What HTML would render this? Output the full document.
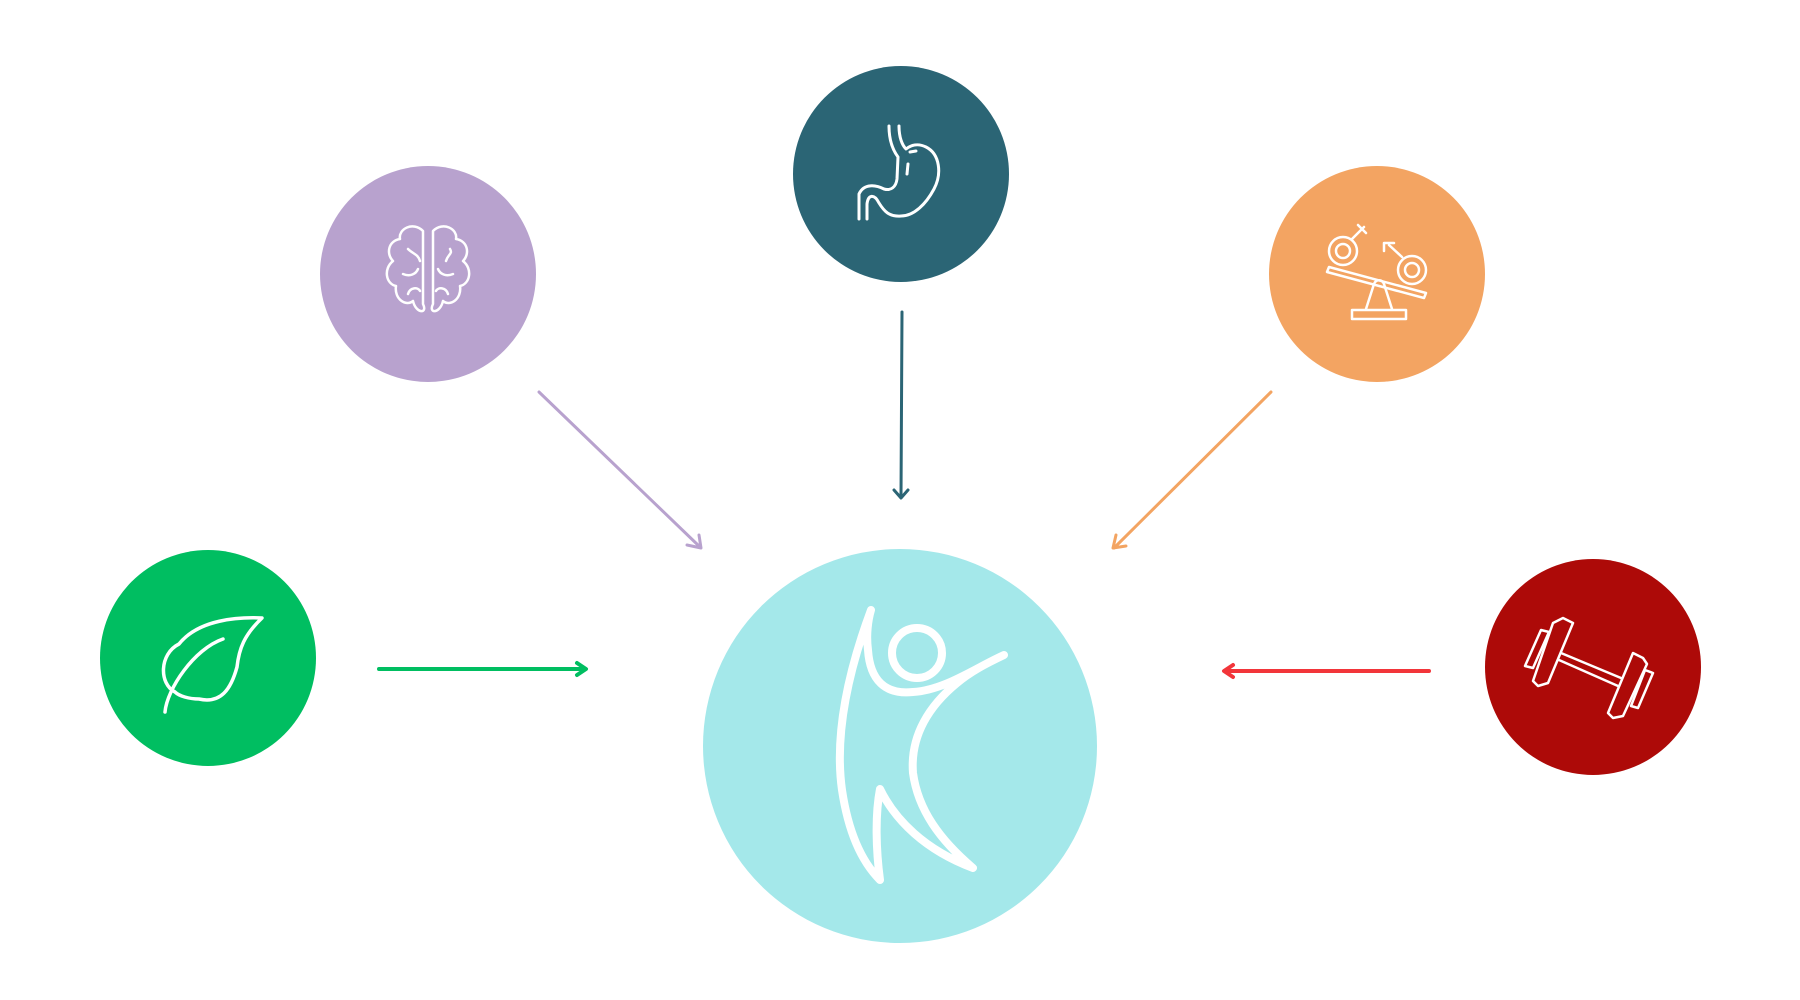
<!DOCTYPE html>
<html><head><meta charset="utf-8"><style>html,body{margin:0;padding:0;background:#fff}svg{display:block}</style></head>
<body>
<svg width="1800" height="1000" viewBox="0 0 1800 1000" xmlns="http://www.w3.org/2000/svg">
<rect width="1800" height="1000" fill="#fff"/>
<circle cx="900" cy="746" r="197" fill="#a4e8ea"/>
<g transform="translate(-2,-1)">
<circle cx="430" cy="275" r="108" fill="#b8a2ce"/>
</g>
<g transform="translate(-4,-1)">
<circle cx="905" cy="175" r="108" fill="#2b6575"/>
</g>
<g transform="translate(-6,-1)">
<circle cx="1383" cy="275" r="108" fill="#f3a462"/>
</g>
<g transform="translate(-1,-1)">
<circle cx="209" cy="659" r="108" fill="#00be61"/>
</g>
<g transform="translate(-7,-2)">
<circle cx="1600" cy="669" r="108" fill="#ad0a08"/>
</g>
<g fill="none" stroke-width="3" stroke-linecap="round" stroke-linejoin="round">
<path d="M539,392 L700,547 M687,545 L701,548 L699,535" stroke="#b8a2ce"/>
<path d="M902,312 L901,497 M894,490 L901,498 L908,490" stroke="#2b6575"/>
<path d="M1271,392 L1114,548 M1116,535 L1113,548 L1126,546" stroke="#f3a462"/>
<path d="M379,669 L585,669 M577,663 L586,669 L577,675" stroke="#00be61" stroke-width="4"/>
<path d="M1429,671 L1225,671 M1233,665 L1224,671 L1233,677" stroke="#f2353a" stroke-width="4"/>
</g>
<g fill="none" stroke="#fff" stroke-linecap="round" stroke-linejoin="round">
<circle cx="917" cy="653" r="25" stroke-width="8"/>
<path stroke-width="8" d="M871,610 C845,680 835,740 842,790 C848,830 860,860 880,880 C876,850 875,815 880,789 C895,820 925,850 973,868 C940,840 918,810 913,773 C910,735 930,705 957,683 C970,672 985,664 1004,655 C975,668 945,690 913,692 C885,695 870,680 868,650 C866,635 868,620 871,610 Z"/>
<g stroke-width="2.5" transform="translate(-2,-1)">
<path d="M425,232 C415,222 400,230 402,240 C390,242 388,255 395,262 C385,270 388,285 398,287 C396,300 408,308 415,302 C418,315 430,315 425,305 Z"/>
<path d="M435,232 C445,222 460,230 458,240 C470,242 472,255 465,262 C475,270 472,285 462,287 C464,300 452,308 445,302 C442,315 430,315 435,305 Z"/>
<path d="M410,250 C415,255 420,255 422,262 M448,262 C450,255 455,255 452,250 M405,275 C412,278 418,275 420,270 M455,275 C448,278 442,275 440,270 M410,295 C412,288 420,288 422,292 M450,295 C448,288 440,288 438,292"/>
</g>
<path transform="translate(-4,-1)" stroke-width="3" d="M893,127 C893,140 896,150 902,158 L901,180 C900,188 895,192 888,190 C880,186 868,184 863,195 L863,220 M871,220 L871,205 C872,196 878,194 883,204 C888,212 893,218 905,217 C918,217 930,205 938,190 C946,175 944,155 930,148 C922,144 915,146 910,150 C906,146 903,138 903,127 M912,165 L911,175 M914,153 L920,152"/>
<g stroke-width="2.5" transform="translate(-6,-1)">
<circle cx="1349" cy="252" r="14"/><circle cx="1349" cy="252" r="7"/>
<circle cx="1418" cy="271" r="14"/><circle cx="1418" cy="271" r="7"/>
<path d="M1358,240 L1370,228 M1364,226 L1372,234 M1408,258 L1395,246 M1390,252 L1390,244 L1400,244"/>
<path d="M1335,268 L1432,294 L1430,299 L1333,273 Z"/>
<path d="M1372,310 L1380,285 C1382,280 1388,280 1390,285 L1398,310 M1358,311 L1412,311 L1412,320 L1358,320 Z"/>
</g>
<path transform="translate(-1,-1)" stroke-width="3.5" d="M166,713 C168,690 195,650 224,640 M176,693 C160,685 160,655 180,645 C200,620 240,618 263,619 C245,636 240,650 238,668 C232,690 222,705 200,700 C190,700 180,697 176,693"/>
<g stroke-width="2.5" transform="translate(-7,-2)">
<path d="M1568,655 L1628,680 M1566,662 L1625,688"/>
<path d="M1560,625 L1570,620 L1580,625 L1555,685 L1545,688 L1540,683 Z"/>
<path d="M1548,632 L1556,634 L1540,670 L1532,668 Z"/>
<path d="M1640,655 L1650,660 L1654,666 L1630,718 L1620,720 L1615,715 Z"/>
<path d="M1652,672 L1660,675 L1645,710 L1638,708 Z"/>
</g>
</g>
</svg>
</body></html>
